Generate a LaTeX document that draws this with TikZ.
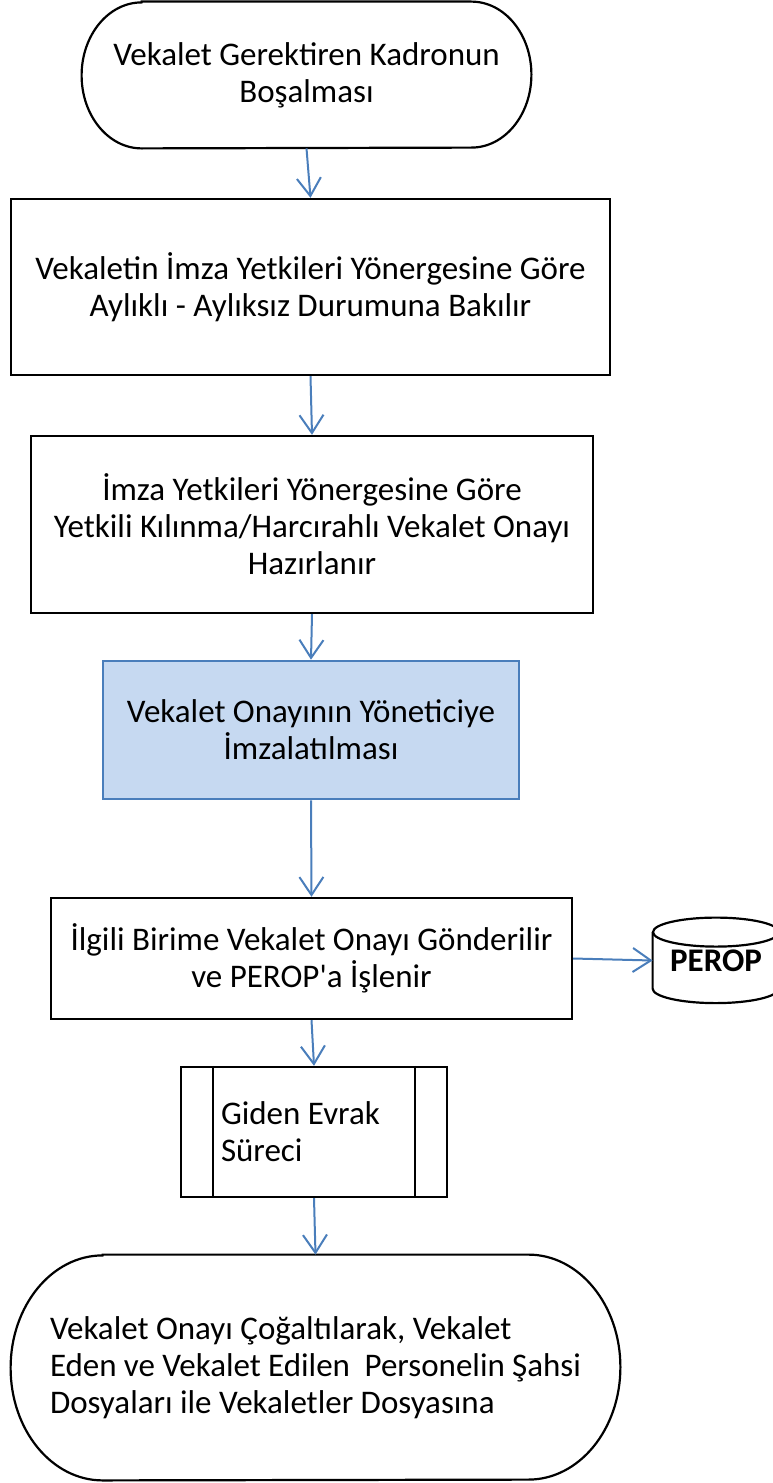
\documentclass[tikz,border=0pt]{standalone}
\usepackage{fontspec}
\newfontfamily\anayazi{Carlito}
\usepackage{tikz}
\usetikzlibrary{arrows.meta,calc}

\definecolor{okmavi}{HTML}{4A7EBB}
\definecolor{kutumavi}{HTML}{C6D9F1}

\tikzset{
  yazi/.style={font=\anayazi\fontsize{16.5}{18.5}\selectfont},
  kutu/.style={draw, line width=1.2pt, yazi, align=center, inner sep=0pt},
  sinir/.style={line width=1.1pt},
  ok/.style={draw=okmavi, line width=1pt, -{Straight Barb[length=9pt,width=12pt]}}
}

\begin{document}
\begin{tikzpicture}[x=0.5pt, y=-0.5pt]

% Page size (pixels of the reference)
\useasboundingbox (0,0) rectangle (772,1483);

% Start terminal
\node[yazi, align=center, minimum width=224.5pt, minimum height=73pt, inner sep=0pt] (basla) at (306.5,75)
  {Vekalet Gerektiren Kadronun\\ Boşalması};
\def\rx{60}
\draw[sinir] ($(basla.north west)+(\rx,0)$) -- ($(basla.north east)+(-\rx,0)$)
  arc[start angle=-90, end angle=90, x radius=\rx, y radius=73]
  -- ($(basla.south west)+(\rx,0)$)
  arc[start angle=90, end angle=270, x radius=\rx, y radius=73] -- cycle;

% Process boxes
\node[kutu, minimum width=299.5pt, minimum height=88pt] (aylik) at (310.5,287)
  {Vekaletin İmza Yetkileri Yönergesine Göre\\ Aylıklı - Aylıksız Durumuna Bakılır};
\node[kutu, minimum width=281pt, minimum height=88.5pt] (hazir) at (312,524.5)
  {İmza Yetkileri Yönergesine Göre\\ Yetkili Kılınma/Harcırahlı Vekalet Onayı\\ Hazırlanır};
\node[kutu, draw=okmavi, fill=kutumavi, line width=1.3pt, minimum width=208pt, minimum height=69pt] (imzala) at (311,730)
  {Vekalet Onayının Yöneticiye\\ İmzalatılması};
\node[kutu, minimum width=260.5pt, minimum height=60.5pt] (gonder) at (311.5,958.5)
  {İlgili Birime Vekalet Onayı Gönderilir\\ ve PEROP'a İşlenir};

% PEROP database
\node[yazi, font=\anayazi\fontsize{16.5}{18.5}\selectfont\bfseries, minimum width=63pt, minimum height=42.5pt, inner sep=0pt] (perop) at (716,960.5) {PEROP};
\draw[sinir] ($(perop.north)+(0,14.5)$) ellipse[x radius=63, y radius=14.5];
\draw[sinir] ($(perop.north west)+(0,14.5)$) -- ++(0,56.5)
  arc[start angle=180, end angle=0, x radius=63, y radius=14.5] -- ++(0,-56.5);

% Predefined process
\node[kutu, align=flush left, text width=93pt, inner xsep=20pt, minimum width=133pt, minimum height=65pt] (evrak) at (314,1132)
  {Giden Evrak\\ Süreci};
\draw[sinir] ([xshift=16.5pt]evrak.north west) -- ([xshift=16.5pt]evrak.south west);
\draw[sinir] ([xshift=-16.5pt]evrak.north east) -- ([xshift=-16.5pt]evrak.south east);

% End terminal
\node[yazi, align=flush left, text width=265.5pt, inner xsep=19.5pt, inner ysep=0pt, minimum width=304.5pt, minimum height=112.5pt] (bitis) at (315.5,1367.5)
  {Vekalet Onayı Çoğaltılarak, Vekalet\\ Eden ve Vekalet Edilen~ Personelin Şahsi\\ Dosyaları ile Vekaletler Dosyasına};
\def\rx{92}
\draw[sinir] ($(bitis.north west)+(\rx,0)$) -- ($(bitis.north east)+(-\rx,0)$)
  arc[start angle=-90, end angle=90, x radius=\rx, y radius=112.5]
  -- ($(bitis.south west)+(\rx,0)$)
  arc[start angle=90, end angle=270, x radius=\rx, y radius=112.5] -- cycle;

% Arrows
\draw[ok] (basla.south) -- (aylik.north);
\draw[ok] (aylik.south) -- (hazir.north);
\draw[ok] (hazir.south) -- (imzala.north);
\draw[ok] (imzala.south) -- (gonder.north);
\draw[ok] (gonder.east) -- (perop.west);
\draw[ok] (gonder.south) -- (evrak.north);
\draw[ok] (evrak.south) -- (bitis.north);

\end{tikzpicture}
\end{document}
